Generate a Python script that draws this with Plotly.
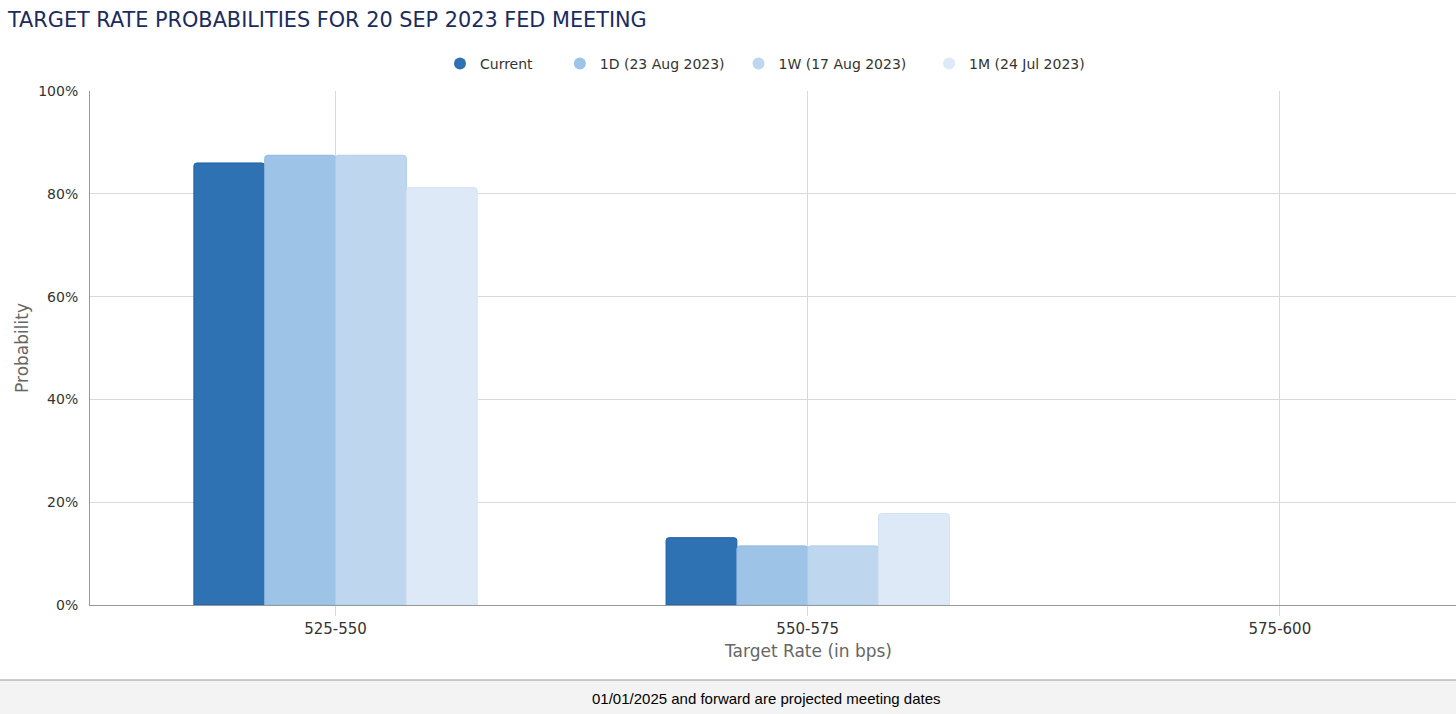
import plotly.graph_objects as go

categories = ["525-550", "550-575", "575-600"]
series_names = ["Current", "1D (23 Aug 2023)", "1W (17 Aug 2023)", "1M (24 Jul 2023)"]
current = [0.860, 0.131, 0.0]
one_day = [0.875, 0.115, 0.0]
one_week = [0.875, 0.115, 0.0]
one_month = [0.812, 0.178, 0.0]
y_ticks = [0, 0.2, 0.4, 0.6, 0.8, 1.0]
y_tick_labels = ["0%", "20%", "40%", "60%", "80%", "100%"]

series_values = [current, one_day, one_week, one_month]
fills = ["#2e72b3", "#9dc3e6", "#bed7ee", "#dde9f6"]
edges = ["#1f5fa5", "#8fb8e0", "#b0cdea", "#d3e2f3"]

W, H = 1456, 714
L, T, B = 90, 91, 605

fig = go.Figure()
for name, vals, fc, ec in zip(series_names, series_values, fills, edges):
    fig.add_trace(go.Bar(
        x=categories, y=vals, name=name, showlegend=False,
        marker=dict(color=fc, cornerradius=3,
                    line=dict(color=ec, width=[1 if v > 0 else 0 for v in vals])),
        hoverinfo="x+y+name",
    ))
# legend entries with circle symbols
pads = [5, 2, 4, 0]
for name, fc, p in zip(series_names, fills, pads):
    fig.add_trace(go.Scatter(
        x=[None], y=[None], mode="markers",
        name=name + "\u00a0" * p,
        marker=dict(symbol="circle", size=14, color=fc),
    ))

ph = B - T
pw = W - L
def py(pix):
    return (B - pix) / ph
def px(pix):
    return (pix - L) / pw

font_fam = "DejaVu Sans, sans-serif"

fig.update_layout(
    width=W, height=H,
    margin=dict(l=L, r=0, t=T, b=H - B, pad=0),
    paper_bgcolor="white", plot_bgcolor="white",
    barmode="group", bargap=0.4, bargroupgap=0,
    font=dict(family=font_fam, size=14, color="#333333"),
    title=dict(
        text="TARGET RATE PROBABILITIES FOR 20 SEP 2023 FED MEETING",
        x=8 / W, xref="container", xanchor="left",
        y=1 - 20 / H, yref="container", yanchor="middle",
        font=dict(family=font_fam, size=20.8, color="#1a2b5e"),
    ),
    legend=dict(
        orientation="h", x=px(440), xanchor="left", y=py(64), yanchor="middle",
        font=dict(size=14, color="#333333"), itemsizing="constant",
        bgcolor="rgba(0,0,0,0)",
    ),
    xaxis=dict(
        type="category", range=[-0.52, 2.373],
        showgrid=True, gridcolor="#d9d9d9", gridwidth=1,
        showline=True, linecolor="#999999", linewidth=1,
        ticks="outside", ticklen=10, tickcolor="#d9d9d9",
        tickfont=dict(size=15, color="#333333"),
        fixedrange=True,
    ),
    yaxis=dict(
        range=[0, 1], tickvals=y_ticks, ticktext=y_tick_labels,
        showgrid=True, gridcolor="#d9d9d9", gridwidth=1,
        showline=True, linecolor="#999999", linewidth=1,
        ticks="outside", ticklen=8, tickcolor="rgba(0,0,0,0)",
        tickfont=dict(size=14, color="#333333"),
        title=dict(text="Probability", font=dict(size=17, color="#666666"), standoff=5),
        zeroline=False, fixedrange=True,
    ),
    shapes=[
        dict(type="rect", xref="paper", yref="paper",
             x0=px(0), x1=px(W), y0=py(H), y1=py(680),
             fillcolor="#f3f3f3", line=dict(width=0), layer="below"),
        dict(type="line", xref="paper", yref="paper",
             x0=px(0), x1=px(W), y0=py(680), y1=py(680),
             line=dict(color="#9a9a9a", width=1)),
    ],
    annotations=[
        dict(text="Target Rate (in bps)",
             xref="paper", yref="paper", x=px(808), y=py(651),
             xanchor="center", yanchor="middle", showarrow=False,
             font=dict(family=font_fam, size=17, color="#666666")),
        dict(text="01/01/2025 and forward are projected meeting dates",
             xref="paper", yref="paper", x=px(766), y=py(698),
             xanchor="center", yanchor="middle", showarrow=False,
             font=dict(family="Liberation Sans, Arial, sans-serif", size=15, color="#000000")),
    ],
)

fig.write_html(
    "out.html",
    config={"displayModeBar": False},
    post_script="document.body.style.margin='0';document.body.style.overflow='hidden';",
)
